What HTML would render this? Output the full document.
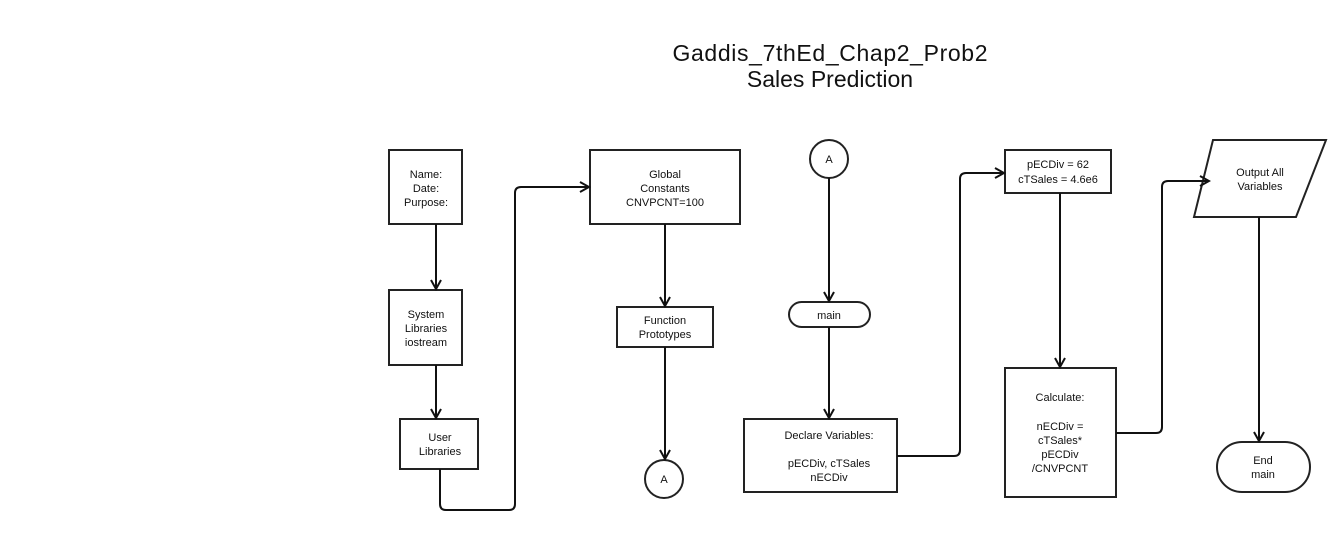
<!DOCTYPE html>
<html><head><style>
body{margin:0;background:#fff;}
svg text{font-family:"Liberation Sans",sans-serif;fill:#111;}
</style></head><body>
<svg width="1336" height="534" viewBox="0 0 1336 534" xmlns="http://www.w3.org/2000/svg">
<defs><marker id="a" markerWidth="12" markerHeight="12" refX="10" refY="6" orient="auto" markerUnits="userSpaceOnUse"><path d="M1,1 L10,6 L1,11" fill="none" stroke="#111" stroke-width="2"/></marker></defs>
<text x="830" y="61" font-size="23" text-anchor="middle" textLength="315">Gaddis_7thEd_Chap2_Prob2</text>
<text x="830" y="87" font-size="23" text-anchor="middle">Sales Prediction</text>
<g fill="#fff" stroke="#222" stroke-width="2">
<rect x="389" y="150" width="73" height="74"/>
<rect x="389" y="290" width="73" height="75"/>
<rect x="400" y="419" width="78" height="50"/>
<rect x="590" y="150" width="150" height="74"/>
<rect x="617" y="307" width="96" height="40"/>
<circle cx="664" cy="479" r="19"/>
<circle cx="829" cy="159" r="19"/>
<rect x="789" y="302" width="81" height="25" rx="12.5"/>
<rect x="744" y="419" width="153" height="73"/>
<rect x="1005" y="150" width="106" height="43"/>
<rect x="1005" y="368" width="111" height="129"/>
<polygon points="1213,140 1326,140 1296,217 1194,217"/>
<rect x="1217" y="442" width="93" height="50" rx="25"/>
</g>
<g fill="none" stroke="#111" stroke-width="2" marker-end="url(#a)">
<path d="M436,224 V289"/>
<path d="M436,365 V418"/>
<path d="M440,469 V504 Q440,510 446,510 H509 Q515,510 515,504 V193 Q515,187 521,187 H589"/>
<path d="M665,224 V306"/>
<path d="M665,347 V459"/>
<path d="M829,178 V301"/>
<path d="M829,327 V418"/>
<path d="M897,456 H954 Q960,456 960,450 V179 Q960,173 966,173 H1004"/>
<path d="M1060,193 V367"/>
<path d="M1116,433 H1156 Q1162,433 1162,427 V187 Q1162,181 1168,181 H1209"/>
<path d="M1259,217 V441"/>
</g>
<g font-size="11" text-anchor="middle">
<text x="426" y="178">Name:</text><text x="426" y="192">Date:</text><text x="426" y="206">Purpose:</text>
<text x="426" y="318">System</text><text x="426" y="332">Libraries</text><text x="426" y="346">iostream</text>
<text x="440" y="441">User</text><text x="440" y="455">Libraries</text>
<text x="665" y="178">Global</text><text x="665" y="192">Constants</text><text x="665" y="206">CNVPCNT=100</text>
<text x="665" y="324">Function</text><text x="665" y="338">Prototypes</text>
<text x="664" y="483">A</text>
<text x="829" y="163">A</text>
<text x="829" y="319">main</text>
<text x="829" y="439">Declare Variables:</text>
<text x="829" y="467">pECDiv, cTSales</text><text x="829" y="481">nECDiv</text>
<text x="1058" y="168">pECDiv = 62</text><text x="1058" y="183">cTSales = 4.6e6</text>
<text x="1060" y="401">Calculate:</text>
<text x="1060" y="430">nECDiv =</text><text x="1060" y="444">cTSales*</text><text x="1060" y="458">pECDiv</text><text x="1060" y="472">/CNVPCNT</text>
<text x="1260" y="176">Output All</text><text x="1260" y="190">Variables</text>
<text x="1263" y="464">End</text><text x="1263" y="478">main</text>
</g>
</svg>
</body></html>
